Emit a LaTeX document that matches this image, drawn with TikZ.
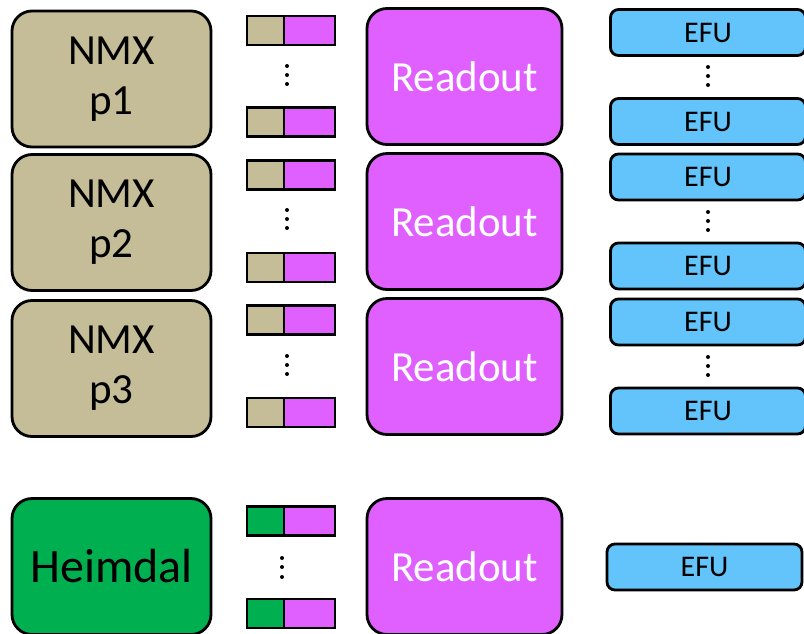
\documentclass[tikz,border=0pt]{standalone}
\usepackage{fontspec}
\setmainfont{Carlito}
\usepackage{tikz}
\usetikzlibrary{positioning}
\definecolor{tan}{HTML}{C4BD97}
\definecolor{mag}{HTML}{E060FF}
\definecolor{efublue}{HTML}{62C4FA}
\definecolor{heimgreen}{HTML}{00B050}
\newcommand{\bigfont}{\fontsize{43}{53}\selectfont}
\newcommand{\efufont}{\fontsize{30}{36}\selectfont}
\tikzset{
  detbox/.style={rectangle, draw, line width=2.8pt, rounded corners=20pt, outer sep=0pt, inner sep=0pt,
    minimum width=199pt, minimum height=136pt, align=center, font=\bigfont},
  readbox/.style={detbox, fill=mag, minimum width=195pt, text=white},
  efubox/.style={rectangle, draw, line width=2.8pt, rounded corners=8pt, outer sep=0pt, inner sep=0pt,
    fill=efublue, minimum width=195pt, minimum height=46pt, font=\efufont},
  half/.style={rectangle, draw, line width=2.8pt, outer sep=0pt, inner sep=0pt, minimum height=29pt},
  srchalf/.style={half, minimum width=37pt},
  dsthalf/.style={half, fill=mag, minimum width=51pt, right=0pt of #1},
}
\begin{document}
\begin{tikzpicture}[x=1pt,y=-1pt]
    \useasboundingbox (0,0) rectangle (804,633);

    % NMX panel 1
    \node (nmx1) at (111.5,79) [detbox,fill=tan] {\raisebox{-3pt}{NMX}\\p1};
    \node (buf1tl) at (265.5,30.5) [srchalf,fill=tan] {};
    \node (buf1tr) [dsthalf=buf1tl] {};
    \node (buf1bl) at (265.5,122) [srchalf,fill=tan] {};
    \node (buf1br) [dsthalf=buf1bl] {};
    \fill (287,66) circle (2) (287,75) circle (2) (287,84) circle (2);
    \node (ro1) at (464.5,76.5) [readbox] {Readout};
    \node (efu1t) at (708,32.5) [efubox] {EFU};
    \node (efu1b) at (708,121.5) [efubox] {EFU};
    \fill (708,67) circle (2) (708,76) circle (2) (708,85) circle (2);

    % NMX panel 2
    \node (nmx2) at (111.5,222.5) [detbox,fill=tan] {\raisebox{-3pt}{NMX}\\p2};
    \node (buf2tl) at (265.5,175) [srchalf,fill=tan] {};
    \node (buf2tr) [dsthalf=buf2tl] {};
    \node (buf2bl) at (265.5,267.5) [srchalf,fill=tan] {};
    \node (buf2br) [dsthalf=buf2bl] {};
    \fill (287,210) circle (2) (287,219) circle (2) (287,228) circle (2);
    \node (ro2) at (464.5,221.5) [readbox] {Readout};
    \node (efu2t) at (708,177) [efubox] {EFU};
    \node (efu2b) at (708,266) [efubox] {EFU};
    \fill (708,212) circle (2) (708,221) circle (2) (708,230) circle (2);

    % NMX panel 3
    \node (nmx3) at (111.5,368.5) [detbox,fill=tan] {\raisebox{-3pt}{NMX}\\p3};
    \node (buf3tl) at (265.5,320) [srchalf,fill=tan] {};
    \node (buf3tr) [dsthalf=buf3tl] {};
    \node (buf3bl) at (265.5,412.5) [srchalf,fill=tan] {};
    \node (buf3br) [dsthalf=buf3bl] {};
    \fill (287,356) circle (2) (287,365) circle (2) (287,374) circle (2);
    \node (ro3) at (464.5,366.5) [readbox] {Readout};
    \node (efu3t) at (708,322) [efubox] {EFU};
    \node (efu3b) at (708,411) [efubox] {EFU};
    \fill (708,357) circle (2) (708,366) circle (2) (708,375) circle (2);

    % Heimdal
    \node (heim) at (111.5,566.5) [detbox,fill=heimgreen,font=\fontsize{48}{56}\selectfont] {Heimdal};
    \node (bufhtl) at (265.5,521) [srchalf,fill=heimgreen] {};
    \node (bufhtr) [dsthalf=bufhtl] {};
    \node (bufhbl) at (265.5,613.5) [srchalf,fill=heimgreen] {};
    \node (bufhbr) [dsthalf=bufhbl] {};
    \fill (282,558) circle (2) (282,567) circle (2) (282,577) circle (2);
    \node (roh) at (464.5,566.5) [readbox] {Readout};
    \node (efuh) at (704.5,567) [efubox] {EFU};
\end{tikzpicture}
\end{document}
